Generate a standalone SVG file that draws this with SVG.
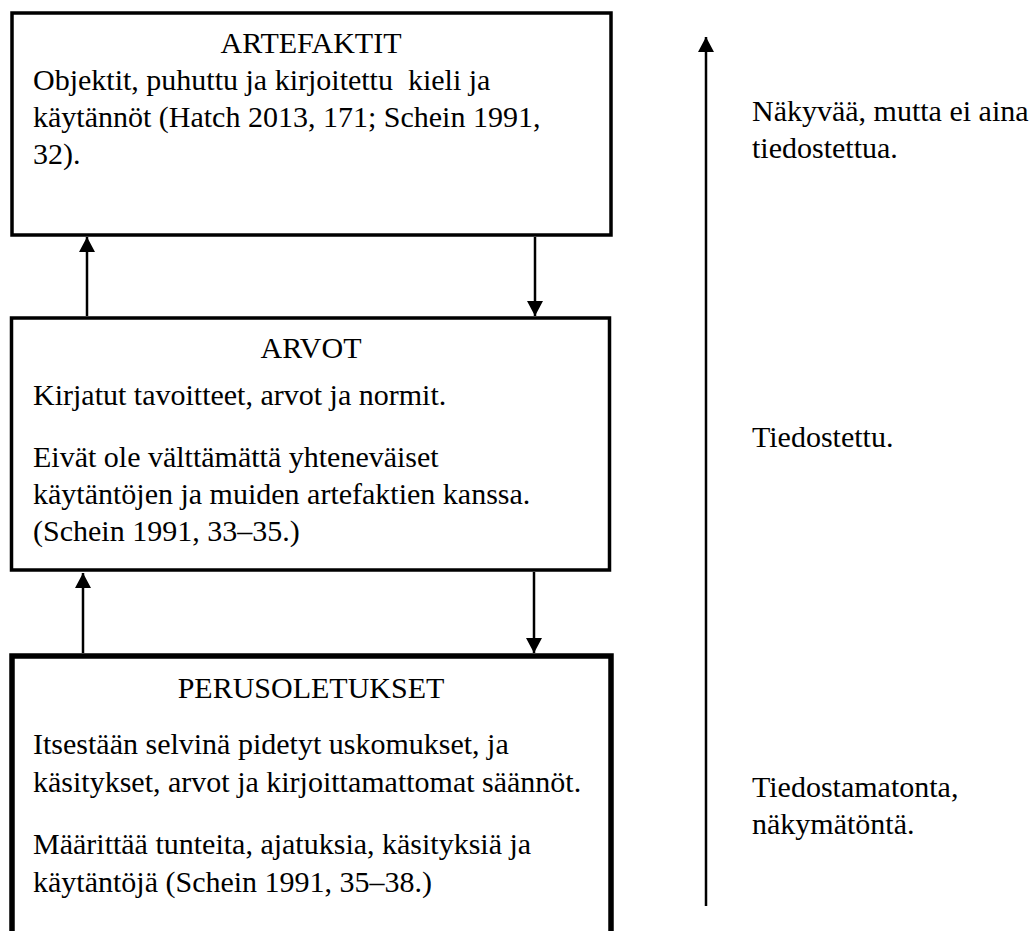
<svg xmlns="http://www.w3.org/2000/svg" width="1033" height="931" viewBox="0 0 1033 931">
<style>
text{font-family:"Liberation Serif","DejaVu Serif",serif;font-size:30px;fill:#000;white-space:pre}
.t{text-anchor:middle}
.box{fill:#fff;stroke:#000;stroke-width:3.5}
.c{stroke:#000;stroke-width:2.5;fill:none}
</style>
<defs>
<marker id="ah" markerUnits="userSpaceOnUse" markerWidth="16" markerHeight="16" refX="15" refY="8" orient="auto" viewBox="0 0 16 16">
<path d="M0,0 L15,8 L0,16 z" fill="#000"/>
</marker>
</defs>
<rect width="1033" height="931" fill="#fff"/>
<g id="artefaktit">
<rect class="box" x="12" y="13" width="599" height="222"/>
<text class="t" x="311" y="53">ARTEFAKTIT</text>
<text x="33" y="90">Objektit, puhuttu ja kirjoitettu  kieli ja</text>
<text x="33" y="127">käytännöt (Hatch 2013, 171; Schein 1991,</text>
<text x="33" y="164">32).</text>
</g>
<g id="arvot">
<rect class="box" x="11.5" y="318" width="598" height="252"/>
<text class="t" x="311" y="358">ARVOT</text>
<text x="33" y="405">Kirjatut tavoitteet, arvot ja normit.</text>
<text x="33" y="467">Eivät ole välttämättä yhteneväiset</text>
<text x="33" y="504">käytäntöjen ja muiden artefaktien kanssa.</text>
<text x="33" y="541">(Schein 1991, 33–35.)</text>
</g>
<g id="perusoletukset">
<rect class="box" x="12" y="656" width="599" height="300" style="stroke-width:5.5"/>
<text class="t" x="311" y="698">PERUSOLETUKSET</text>
<text x="33" y="754">Itsestään selvinä pidetyt uskomukset, ja</text>
<text x="33" y="792">käsitykset, arvot ja kirjoittamattomat säännöt.</text>
<text x="33" y="854">Määrittää tunteita, ajatuksia, käsityksiä ja</text>
<text x="33" y="892">käytäntöjä (Schein 1991, 35–38.)</text>
</g>
<g id="labels">
<text x="752" y="121">Näkyvää, mutta ei aina</text>
<text x="752" y="158">tiedostettua.</text>
<text x="752" y="447">Tiedostettu.</text>
<text x="752" y="797">Tiedostamatonta,</text>
<text x="752" y="834">näkymätöntä.</text>
</g>
<g id="connectors">
<line class="c" x1="87" y1="316" x2="87" y2="237" marker-end="url(#ah)"/>
<line class="c" x1="535" y1="237" x2="535" y2="316" marker-end="url(#ah)"/>
<line class="c" x1="83" y1="653" x2="83" y2="573" marker-end="url(#ah)"/>
<line class="c" x1="534" y1="572" x2="534" y2="653" marker-end="url(#ah)"/>
<line class="c" x1="706" y1="906" x2="706" y2="37" marker-end="url(#ah)"/>
</g>
</svg>
